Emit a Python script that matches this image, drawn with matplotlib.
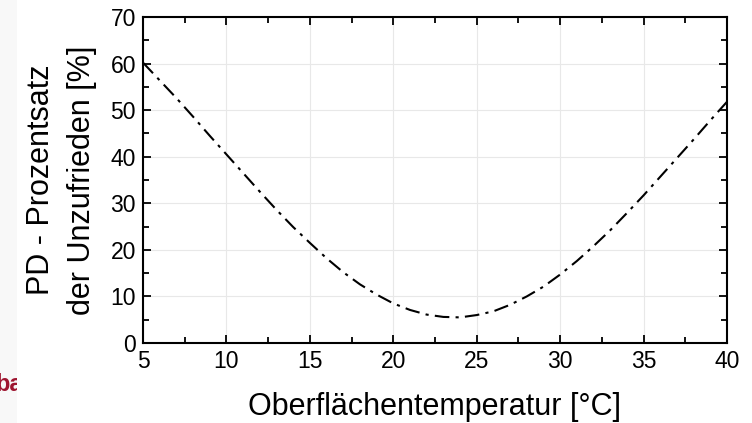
import matplotlib
matplotlib.use("Agg")
import matplotlib.pyplot as plt
from matplotlib.patches import Rectangle
from matplotlib.ticker import MultipleLocator

plt.rcParams['font.family'] = ['Liberation Sans', 'DejaVu Sans']

# Surface temperature [°C] and PD [%]
temperature = [5, 6, 7, 8, 9, 10, 11, 12, 13, 14, 15, 16, 17, 18, 19, 20, 21, 22,
               23, 24, 25, 26, 27, 28, 29, 30, 31, 32, 33, 34, 35, 36, 37, 38, 39, 40]
pd_values = [60.2, 56.4, 52.6, 48.6, 44.5, 40.5, 36.5, 32.5, 28.6, 24.9, 21.5, 18.2,
             15.2, 12.6, 10.4, 8.5, 7.1, 6.1, 5.6, 5.5, 6.0, 6.8, 8.2, 10.0, 12.1,
             14.7, 17.6, 20.8, 24.2, 27.9, 31.7, 35.7, 39.7, 43.7, 47.8, 51.8]

x_ticks = [5, 10, 15, 20, 25, 30, 35, 40]
y_ticks = [0, 10, 20, 30, 40, 50, 60, 70]

fig = plt.figure(figsize=(7.52, 4.23), dpi=100)
fig.patch.set_facecolor('#f8f8f8')
fig.text(-0.006, 1 - 384 / 423, 'ba', color='#9e1530', fontsize=17, fontweight='bold',
         ha='left', va='center', zorder=-3)
fig.patches.append(Rectangle((17 / 752, 0), 1, 1, transform=fig.transFigure,
                             facecolor='white', edgecolor='none', zorder=-2))

ax = fig.add_axes([143 / 752, 1 - 343 / 423, (727 - 143) / 752, (343 - 17) / 423])
ax.plot(temperature, pd_values, color='black', linewidth=1.5,
        linestyle=(0, (7, 3, 1.5, 3)), clip_on=False)

ax.set_xlim(5, 40)
ax.set_ylim(0, 70)
ax.set_xticks(x_ticks)
ax.set_yticks(y_ticks)
ax.xaxis.set_minor_locator(MultipleLocator(2.5))
ax.yaxis.set_minor_locator(MultipleLocator(5))
ax.tick_params(which='both', direction='in', top=True, right=True, width=1.3,
               labelsize=16.5, colors='black')
ax.tick_params(which='major', length=6, pad=5)
ax.tick_params(which='minor', length=4)
ax.grid(True, which='major', color='#e8e8e8', linewidth=0.8)
ax.set_axisbelow(True)
for s in ax.spines.values():
    s.set_linewidth(1.5)

ax.set_xlabel('Oberflächentemperatur [°C]', fontsize=22, labelpad=14)
ax.set_ylabel('PD - Prozentsatz\nder Unzufrieden [%]', fontsize=22, labelpad=10,
              linespacing=1.45)

fig.savefig('out.png', dpi=100)
